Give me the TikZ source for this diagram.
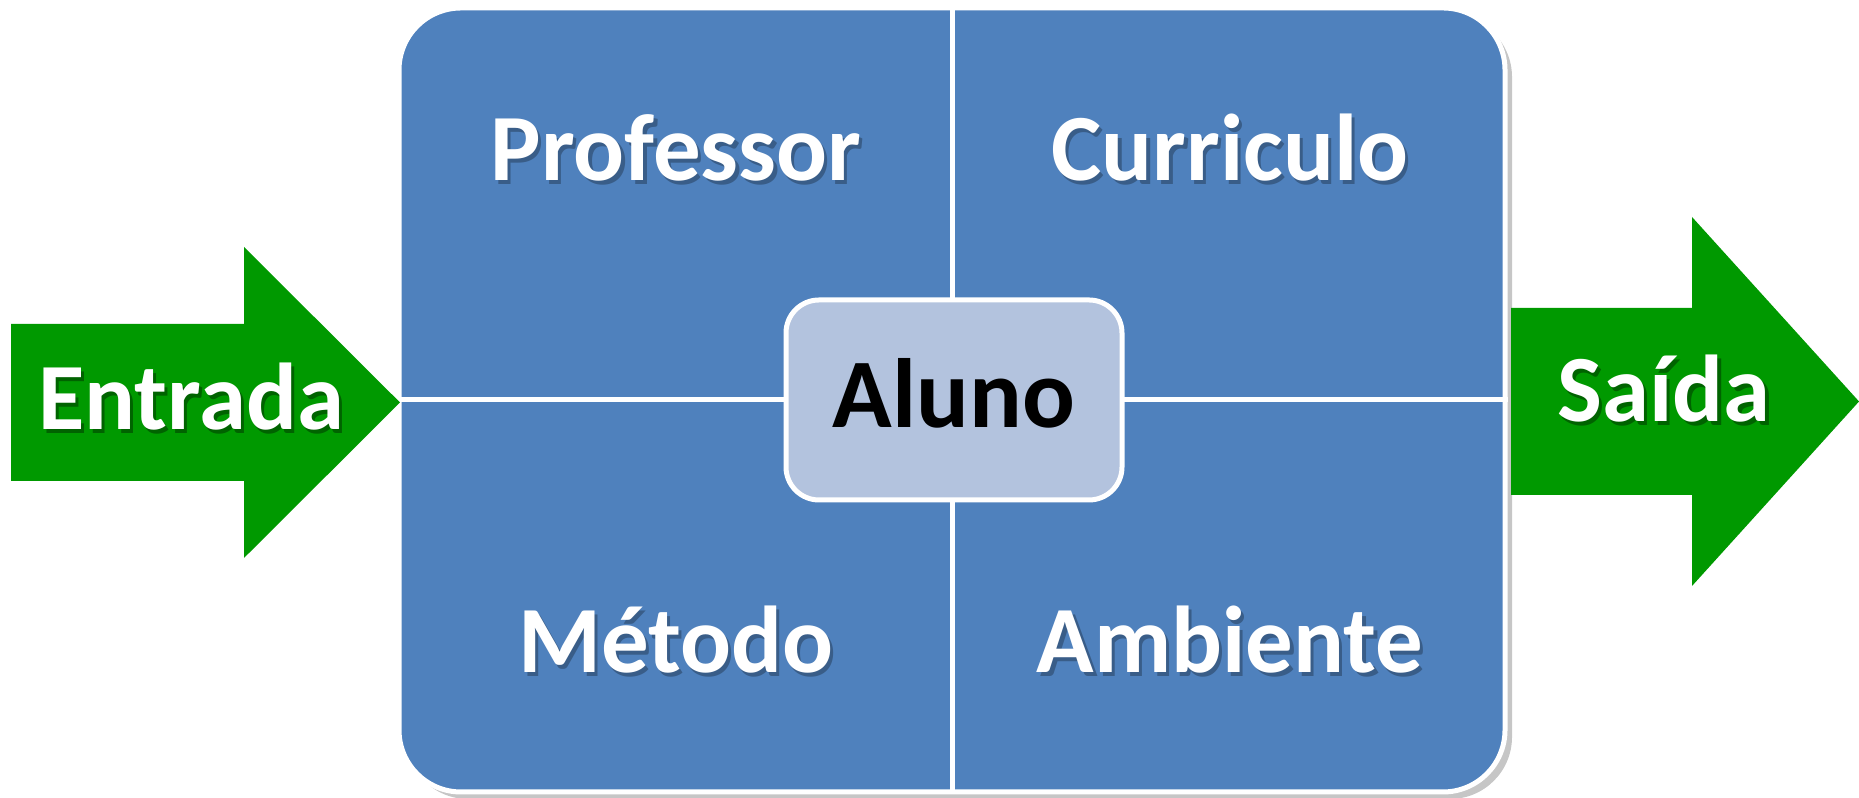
\documentclass[tikz,border=0pt]{standalone}
\usepackage{fontspec}
\setmainfont{Carlito}
\usetikzlibrary{shadows}
\definecolor{quadblue}{HTML}{4F81BD}
\definecolor{alunoblue}{HTML}{B3C3DE}
\definecolor{arrowgreen}{HTML}{009900}
% white text with a soft offset shadow
\newcommand{\shtext}[2]{\makebox[0pt][l]{\kern0.035em\raisebox{-0.035em}{\textcolor{#1}{#2}}}#2}

\begin{document}
\begin{tikzpicture}
    \useasboundingbox (0,0) rectangle (18.59,7.98);
    % the four quadrants
    \node[fill=quadblue,draw=white,line width=0.05cm,rounded corners=0.62cm,
          minimum width=11.06cm,minimum height=7.84cm,
          drop shadow={opacity=0.45,shadow xshift=0.07cm,shadow yshift=-0.07cm}]
          (quadro) at (9.52,3.98) {};
    \draw[white,line width=0.05cm] (quadro.north) -- (quadro.south);
    \draw[white,line width=0.05cm] (quadro.west) -- (quadro.east);
    \node[fill=alunoblue,draw=white,line width=0.05cm,rounded corners=0.33cm,
          minimum width=3.36cm,minimum height=2cm] (aluno) at (9.54,3.98) {};
    % arrows in and out
    \fill[arrowgreen] (0.11,4.74) -- (2.44,4.74) -- (2.44,5.51) -- (4.00,3.955)
        -- (2.44,2.40) -- (2.44,3.17) -- (0.11,3.17) -- cycle;
    \fill[arrowgreen] (15.11,4.90) -- (16.92,4.90) -- (16.92,5.81) -- (18.59,3.965)
        -- (16.92,2.12) -- (16.92,3.03) -- (15.11,3.03) -- cycle;
    \begin{scope}[every node/.style={anchor=base,inner sep=0pt,text=white,
                  font=\fontsize{27}{33}\selectfont\bfseries}]
        \node (professor) at (6.76,6.17) {\shtext{quadblue!72!black}{Professor}};
        \node (curriculo) at (12.30,6.17) {\shtext{quadblue!72!black}{Curriculo}};
        \node (metodo)    at (6.76,1.25) {\shtext{quadblue!72!black}{Método}};
        \node (ambiente)  at (12.30,1.25) {\shtext{quadblue!72!black}{Ambiente}};
        \node (entrada)   at (1.91,3.68) {\shtext{arrowgreen!65!black}{Entrada}};
        \node (saida)     at (16.64,3.76) {\shtext{arrowgreen!65!black}{Saída}};
        \node[text=black,font=\fontsize{28}{34}\selectfont\bfseries] (alunotxt) at (9.54,3.70) {Aluno};
    \end{scope}
\end{tikzpicture}
\end{document}
